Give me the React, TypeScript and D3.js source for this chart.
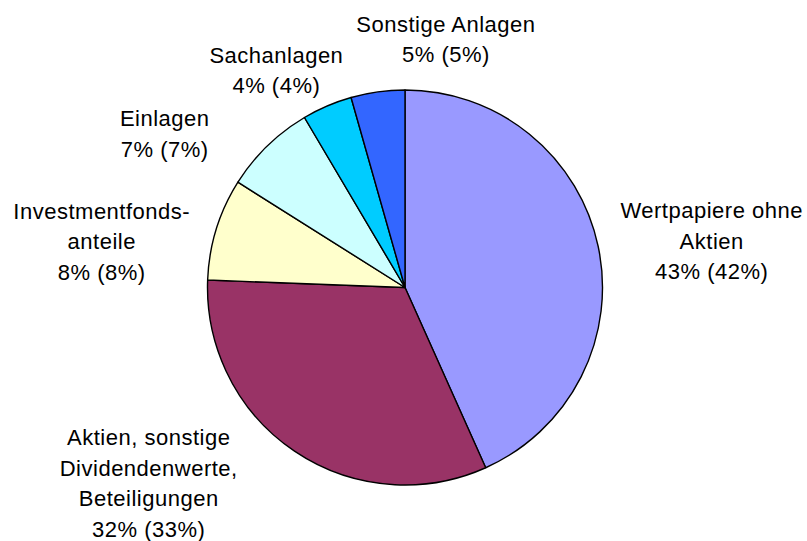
import React from 'react';
import * as d3 from 'd3';

// shares in percent, clockwise from 12 o'clock
const categories = [
  'Wertpapiere ohne Aktien',
  'Aktien, sonstige Dividendenwerte, Beteiligungen',
  'Investmentfondsanteile',
  'Einlagen',
  'Sachanlagen',
  'Sonstige Anlagen',
];
const shares = [43.3, 32.3, 8.35, 7.55, 4.1, 4.4];
const labelLines = [
  ['Wertpapiere ohne', 'Aktien', '43% (42%)'],
  ['Aktien, sonstige', 'Dividendenwerte,', 'Beteiligungen', '32% (33%)'],
  ['Investmentfonds-', 'anteile', '8% (8%)'],
  ['Einlagen', '7% (7%)'],
  ['Sachanlagen', '4% (4%)'],
  ['Sonstige Anlagen', '5% (5%)'],
];
const colors = ['#9999FF', '#993366', '#FFFFCC', '#CCFFFF', '#00CCFF', '#3366FF'];
// label nudges relative to the outer centroid (first baseline)
const labelNudge = [[72, -19], [-122, -41], [-74, 2], [-73, 11], [-34, -4], [74, -18]];

export default function App() {
  var width = 807, height = 541;
  var cx = 405, cy = 287.5, r = 197.5;

  var pie = d3.pie<number>().sort(null).value(function (d) { return d; });
  var arcs = pie(shares);
  var arc = d3.arc<d3.PieArcDatum<number>>().innerRadius(0).outerRadius(r);
  var labelArc = d3.arc<d3.PieArcDatum<number>>().innerRadius(240).outerRadius(240);
  var lineH = 30.5;

  return (
    <svg width={width} height={height} style={{position: 'absolute', left: 0, top: 0}}
      fontFamily="'Liberation Sans', Arial, sans-serif" fontSize="22px" letterSpacing="0.5px">
      <rect width={width} height={height} fill="#fff"/>
      <g transform={'translate(' + cx + ',' + cy + ')'}>
        {arcs.map(function (d, i) {
          return <path key={categories[i]} d={arc(d) || ''} fill={colors[i]} stroke="#000" strokeWidth="1.4" strokeLinejoin="round"/>;
        })}
        {arcs.map(function (d, i) {
          var c = labelArc.centroid(d);
          var x = c[0] + labelNudge[i][0], y = c[1] + labelNudge[i][1];
          return (
            <text key={'l' + i} textAnchor="middle" fill="#000">
              {labelLines[i].map(function (t, j) {
                return <tspan key={j} x={x} y={y + j * lineH}>{t}</tspan>;
              })}
            </text>
          );
        })}
      </g>
    </svg>
  );
}
